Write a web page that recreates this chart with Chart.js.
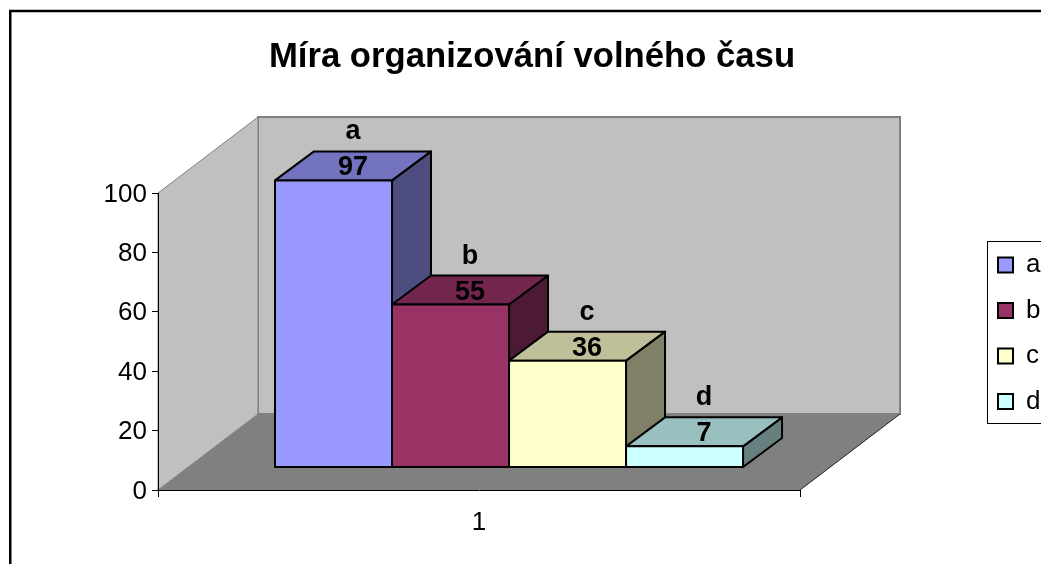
<!DOCTYPE html>
<html>
<head>
<meta charset="utf-8">
<title>Míra organizování volného času</title>
<script src="https://cdn.jsdelivr.net/npm/chart.js@4/dist/chart.umd.min.js"></script>
<style>
    html, body { margin: 0; padding: 0; background: #fff; overflow: hidden; }
    canvas { display: block; }
</style>
</head>
<body>
<canvas id="chart" width="1041" height="564"></canvas>
<script>
// Chart data
const chartTitle = 'Míra organizování volného času';
const categories = ['1'];
const seriesNames = ['a', 'b', 'c', 'd'];
const seriesValues = [97, 55, 36, 7];
const yTickValues = [0, 20, 40, 60, 80, 100];

// Colours of each bar: front, top and side face
const frontColors = ['#9999ff', '#993366', '#ffffcc', '#ccffff'];
const topColors = ['#7373bf', '#73264d', '#bfbf99', '#99bfbf'];
const sideColors = ['#4d4d80', '#4d1a33', '#808066', '#668080'];

const FONT = '"Liberation Sans", Arial, sans-serif';

// 3D look
const WALL_DX = 100, WALL_DY = 76;
const BAR_DX = 39, BAR_DY = 29;
const BAR_SHIFT = 30;

function polygon(ctx, pts, fill, stroke, width) {
    ctx.beginPath();
    pts.forEach((p, i) => i ? ctx.lineTo(p[0], p[1]) : ctx.moveTo(p[0], p[1]));
    ctx.closePath();
    if (fill) {
        ctx.fillStyle = fill;
        ctx.fill();
    }
    if (stroke) {
        ctx.strokeStyle = stroke;
        ctx.lineWidth = width;
        ctx.stroke();
    }
}

const box3d = {
    id: 'box3d',
    afterLayout(chart) {
        // legend sits half outside the picture, so place it by hand
        chart.legend.left = 978.5;
        chart.legend.top = 232.5;
    },
    beforeDraw(chart) {
        const ctx = chart.ctx;
        const { left, right, top, bottom } = chart.chartArea;
        const dx = WALL_DX, dy = WALL_DY;
        ctx.save();
        // outer frame
        ctx.strokeStyle = '#000';
        ctx.lineWidth = 2.5;
        ctx.strokeRect(10.25, 11, 1100, 700);
        // legend frame
        ctx.lineWidth = 1;
        ctx.strokeRect(987.5, 241.5, 100, 182);
        // walls and floor
        polygon(ctx, [[left + dx, top - dy], [right + dx, top - dy], [right + dx, bottom - dy], [left + dx, bottom - dy]], '#c0c0c0', '#808080', 2);
        polygon(ctx, [[left, bottom], [left + dx, bottom - dy], [left + dx, top - dy], [left, top]], '#c0c0c0', '#808080', 1);
        polygon(ctx, [[left, bottom], [right, bottom], [right + dx, bottom - dy], [left + dx, bottom - dy]], '#808080');
        ctx.beginPath();
        ctx.moveTo(right, bottom);
        ctx.lineTo(right + dx, bottom - dy);
        ctx.strokeStyle = '#202020';
        ctx.lineWidth = 1;
        ctx.stroke();
        ctx.restore();
    },
    beforeDatasetsDraw(chart) {
        const ctx = chart.ctx;
        ctx.save();
        ctx.translate(BAR_SHIFT, 0);
        ctx.lineJoin = 'round';
        seriesNames.forEach((name, i) => {
            const bar = chart.getDatasetMeta(i).data[0];
            const x0 = bar.x - bar.width / 2, x1 = bar.x + bar.width / 2;
            polygon(ctx, [[x1, bar.y], [x1 + BAR_DX, bar.y - BAR_DY], [x1 + BAR_DX, bar.base - BAR_DY], [x1, bar.base]], sideColors[i], '#000', 2);
            polygon(ctx, [[x0, bar.y], [x0 + BAR_DX, bar.y - BAR_DY], [x1 + BAR_DX, bar.y - BAR_DY], [x1, bar.y]], topColors[i], '#000', 2);
        });
    },
    afterDatasetsDraw(chart) {
        const ctx = chart.ctx;
        seriesNames.forEach((name, i) => {
            const bar = chart.getDatasetMeta(i).data[0];
            const x0 = bar.x - bar.width / 2;
            ctx.strokeStyle = '#000';
            ctx.lineWidth = 2;
            ctx.strokeRect(x0, bar.y, bar.width, bar.base - bar.y);
            // series name and value over the top face
            ctx.fillStyle = '#000';
            ctx.font = 'bold 27px ' + FONT;
            ctx.textAlign = 'center';
            ctx.textBaseline = 'alphabetic';
            ctx.fillText(seriesValues[i], bar.x + BAR_DX / 2, bar.y - 5);
            ctx.fillText(name, bar.x + BAR_DX / 2, bar.y - 41);
        });
        ctx.restore();
    }
};

document.addEventListener('DOMContentLoaded', () => {
    const datasets = seriesNames.map((name, i) => ({
        label: name,
        data: [seriesValues[i]],
        backgroundColor: frontColors[i],
        borderWidth: 0,
        yAxisID: 'barY',
        clip: false
    }));

    new Chart(document.getElementById('chart'), {
        type: 'bar',
        data: { labels: categories, datasets: datasets },
        plugins: [box3d],
        options: {
            responsive: false,
            animation: false,
            devicePixelRatio: 1,
            categoryPercentage: 0.729,
            barPercentage: 1,
            layout: { padding: { top: 20, left: 23, right: 0, bottom: 0 } },
            plugins: {
                tooltip: { enabled: false },
                title: {
                    display: true,
                    text: chartTitle,
                    color: '#000',
                    font: { family: FONT, size: 34.7, weight: 'bold' },
                    padding: { top: 16.5, bottom: 114.9 }
                },
                legend: {
                    position: 'right',
                    align: 'start',
                    labels: {
                        color: '#000',
                        font: { family: FONT, size: 26 },
                        boxWidth: 15,
                        boxHeight: 15,
                        padding: 19.5,
                        generateLabels(chart) {
                            return Chart.defaults.plugins.legend.labels.generateLabels(chart).map(item => {
                                item.lineWidth = 2;
                                item.strokeStyle = '#000';
                                return item;
                            });
                        }
                    }
                }
            },
            scales: {
                x: {
                    offset: true,
                    border: { color: '#000' },
                    grid: { offset: true, drawOnChartArea: false, color: '#000', tickLength: 7 },
                    ticks: { color: '#000', font: { family: FONT, size: 26 }, padding: 10 },
                    afterFit(scale) { scale.height = 74; }
                },
                y: {
                    min: 0,
                    max: 100,
                    border: { color: '#000' },
                    grid: { drawOnChartArea: false, color: '#000', tickLength: 6 },
                    ticks: { color: '#000', font: { family: FONT, size: 26 }, padding: 5, labelOffset: 1.5 },
                    afterBuildTicks(scale) { scale.ticks = yTickValues.map(v => ({ value: v })); },
                    afterFit(scale) { scale.width = 135; }
                },
                // the bars stand further back than the axis, so they get their own hidden scale
                barY: {
                    position: 'right',
                    min: -7.78,
                    max: 92.73,
                    border: { display: false },
                    grid: { display: false },
                    ticks: { display: false },
                    afterFit(scale) { scale.width = 169; }
                }
            }
        }
    });
});
</script>
</body>
</html>
